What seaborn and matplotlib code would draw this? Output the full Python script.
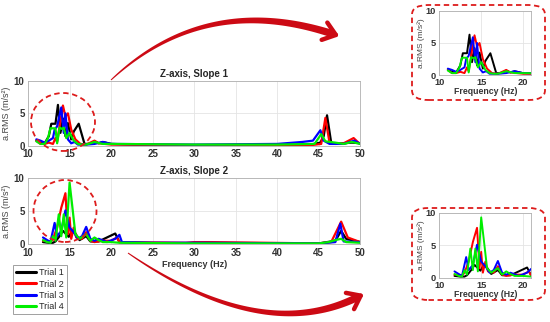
import numpy as np
import pandas as pd
import seaborn as sns
import matplotlib.pyplot as plt
from matplotlib.patches import Ellipse, FancyBboxPatch, Polygon
from matplotlib.lines import Line2D

trials = ['Trial 1', 'Trial 2', 'Trial 3', 'Trial 4']
colors = ['#000000', '#ff0000', '#0000ff', '#00ee00']

# Slope 1
s1_f1 = [11, 11.5, 12, 12.5, 12.8, 13.3, 13.6, 13.9, 14.2, 14.5, 14.8, 15.2, 15.5, 16.1, 16.8, 17.5, 18, 18.5, 19, 20, 25, 40, 44, 45.2, 45.6, 46, 46.5, 47, 48, 49, 50]
s1_v1 = [0.8, 0.5, 0.4, 1.5, 3.4, 3.4, 6.3, 2.0, 4.2, 1.5, 3.5, 1.0, 2.2, 3.4, 0.3, 0.3, 0.7, 0.4, 0.6, 0.3, 0.1, 0.15, 0.2, 0.5, 1.5, 4.7, 0.5, 0.3, 0.4, 0.5, 0.4]
s1_f2 = [11, 11.5, 12, 12.5, 13, 13.3, 13.5, 13.8, 14.2, 14.5, 14.8, 15.2, 15.7, 16.3, 17, 18, 18.5, 20, 30, 44, 45.3, 45.8, 46.3, 47, 48, 49.2, 49.7, 50]
s1_v2 = [0.8, 0.3, 0.3, 0.5, 0.3, 1.2, 0.6, 3.0, 6.2, 4.5, 5.0, 2.5, 1.0, 0.3, 0.2, 0.8, 0.4, 0.2, 0.1, 0.1, 0.3, 4.3, 0.5, 0.3, 0.4, 1.2, 0.6, 0.3]
s1_f3 = [11, 11.5, 12, 12.5, 13, 13.2, 13.5, 14, 14.3, 14.5, 14.8, 15.2, 15.6, 16, 17, 18, 19, 20, 30, 40, 43, 44.3, 45.2, 45.6, 46.3, 48, 49.3, 50]
s1_v3 = [1.0, 0.8, 0.5, 0.8, 1.2, 2.5, 3.0, 5.9, 2.0, 5.0, 1.0, 0.4, 0.6, 0.2, 0.2, 0.3, 0.6, 0.3, 0.2, 0.3, 0.6, 0.8, 2.4, 0.8, 0.3, 0.3, 0.8, 0.3]
s1_f4 = [11, 11.5, 12, 12.4, 12.7, 13.3, 13.5, 13.8, 14.1, 14.3, 14.6, 15, 15.5, 16, 16.5, 17, 18, 19, 20, 30, 40, 44.5, 45.3, 45.8, 47, 48, 49, 50]
s1_v4 = [0.7, 0.3, 0.3, 1.2, 2.7, 2.7, 0.4, 2.8, 2.6, 2.8, 1.2, 2.0, 0.8, 0.3, 0.2, 0.2, 0.6, 0.3, 0.3, 0.2, 0.2, 0.3, 1.8, 0.7, 0.5, 0.3, 0.6, 0.3]

# Slope 2
s2_f1 = [11.8, 12.5, 13, 13.3, 13.8, 14.2, 14.6, 14.9, 15.3, 15.7, 16.2, 17, 17.5, 18.5, 19.5, 20.5, 21, 25, 45, 47, 47.7, 48.3, 50]
s2_v1 = [0.3, 0.2, 0.2, 0.4, 1.2, 2.0, 1.5, 1.1, 2.0, 1.6, 0.6, 1.2, 0.4, 0.4, 1.0, 1.6, 0.3, 0.1, 0.1, 0.5, 2.0, 0.8, 0.3]
s2_f2 = [11.8, 12.3, 12.7, 13, 13.5, 14, 14.5, 14.8, 15, 15.2, 15.5, 15.8, 16.5, 17, 17.5, 18, 19, 20, 20.7, 21, 29, 30, 32, 45, 46.5, 47.7, 48.5, 50]
s2_v2 = [0.5, 0.5, 0.3, 0.8, 2.5, 5.5, 7.7, 1.5, 4.0, 0.8, 2.5, 1.0, 0.8, 1.8, 0.5, 0.3, 0.5, 0.5, 1.0, 0.3, 0.2, 0.3, 0.3, 0.1, 0.3, 3.4, 1.0, 0.3]
s2_f3 = [11.8, 12.3, 12.7, 13.2, 13.5, 14, 14.5, 15, 15.5, 16, 16.5, 17, 17.5, 18, 18.5, 19.5, 20.5, 21, 21.3, 25, 30, 45, 47, 47.6, 48, 50]
s2_v3 = [1.0, 0.6, 0.3, 3.2, 1.2, 2.0, 5.1, 2.5, 1.8, 0.8, 1.2, 2.6, 0.8, 0.5, 0.8, 0.3, 0.8, 1.4, 0.3, 0.2, 0.2, 0.1, 0.3, 3.1, 0.4, 0.3]
s2_f4 = [11.8, 12.3, 12.7, 13, 13.3, 13.7, 14, 14.3, 14.6, 15, 15.3, 15.7, 16.2, 17, 17.5, 18, 18.5, 19, 20, 21, 30, 45, 46.2, 47, 47.7, 48.3, 50]
s2_v4 = [0.6, 0.3, 0.2, 1.2, 0.5, 4.5, 1.2, 4.5, 1.0, 9.3, 6.0, 1.5, 0.8, 1.5, 0.5, 1.0, 0.6, 0.3, 0.3, 0.2, 0.1, 0.1, 0.3, 0.6, 0.8, 0.3, 0.2]


def make_df(freqs, vals):
    parts = []
    for name, f, v in zip(trials, freqs, vals):
        parts.append(pd.DataFrame({'freq': f, 'rms': v, 'trial': name}))
    return pd.concat(parts, ignore_index=True)


df1 = make_df([s1_f1, s1_f2, s1_f3, s1_f4], [s1_v1, s1_v2, s1_v3, s1_v4])
df2 = make_df([s2_f1, s2_f2, s2_f3, s2_f4], [s2_v1, s2_v2, s2_v3, s2_v4])

sns.set_style('whitegrid')
plt.rcParams['font.family'] = ['Liberation Sans', 'DejaVu Sans']

W, H = 550, 322
fig = plt.figure(figsize=(5.5, 3.22), dpi=100)


def fx(x, y):
    # pixel coords (top-left origin) -> figure fraction
    return (x / W, 1 - y / H)


def draw(ax, df, xlim, xticks, lw, small=False):
    sns.lineplot(data=df, x='freq', y='rms', hue='trial', palette=colors,
                 hue_order=trials, sort=False, estimator=None, linewidth=lw,
                 legend=False, ax=ax)
    ax.set_xlim(*xlim)
    ax.set_ylim(0, 10)
    ax.set_xticks(xticks)
    ax.set_yticks([0, 5, 10])
    ax.grid(True, color='#e4e4e4', linewidth=0.6)
    for s in ax.spines.values():
        s.set_visible(True)
        s.set_color('#b0b0b0')
        s.set_linewidth(0.6)
    ax.tick_params(axis='both', labelsize=6.7 if small else 7, pad=2.5, length=0)
    for lab in ax.get_xticklabels() + ax.get_yticklabels():
        lab.set_fontweight('bold')
        lab.set_color('#333333')
    ax.set_ylabel('a.RMS (m/s²)', fontsize=6 if small else 6.5, color='#444444',
                  labelpad=0.3 if small else 2)
    ax.set_xlabel('')


ax1 = fig.add_axes([0.051, 0.547, 0.604, 0.202])
draw(ax1, df1, (10, 50), range(10, 51, 5), 1.6)
ax1.set_title('Z-axis, Slope 1', fontsize=7, fontweight='bold', pad=3)

ax2 = fig.add_axes([0.051, 0.242, 0.604, 0.205])
draw(ax2, df2, (10, 50), range(10, 51, 5), 1.6)
ax2.set_title('Z-axis, Slope 2', fontsize=7, fontweight='bold', pad=3)
ax2.set_xlabel('Frequency (Hz)', fontsize=6.5, fontweight='bold', color='#333333', labelpad=2)

ax3 = fig.add_axes([0.799, 0.767, 0.167, 0.199])
draw(ax3, df1, (10, 21), [10, 15, 20], 1.4, small=True)
ax3.set_xlabel('Frequency (Hz)', fontsize=6.3, fontweight='bold', color='#333333', labelpad=0)

ax4 = fig.add_axes([0.799, 0.137, 0.167, 0.202])
draw(ax4, df2, (10, 21), [10, 15, 20], 1.4, small=True)
ax4.set_xlabel('Frequency (Hz)', fontsize=6.3, fontweight='bold', color='#333333', labelpad=0)

red = '#dd1c1c'
for box in [(412, 5, 545, 100), (412, 208, 545, 300)]:
    x0, y0, x1, y1 = box
    fig.patches.append(FancyBboxPatch(
        fx(x0, y1), (x1 - x0) / W, (y1 - y0) / H,
        boxstyle='round,pad=0,rounding_size=0.03', transform=fig.transFigure,
        fill=False, edgecolor=red, linestyle=(0, (3, 2)), linewidth=1.3))

for cx, cy, w, h in [(63, 122, 64, 58), (65, 211, 63, 62)]:
    fig.patches.append(Ellipse(fx(cx, cy), w / W, h / H,
                               transform=fig.transFigure, fill=False,
                               edgecolor=red, linestyle=(0, (3, 2)), linewidth=1.3))


def tapered_arrow(p0, p1, p2, w0, w1, color):
    # quadratic curve in pixel coords, width growing towards the head
    p0, p1, p2 = map(np.array, (p0, p1, p2))
    t = np.linspace(0, 1, 60)[:, None]
    pts = (1 - t) ** 2 * p0 + 2 * (1 - t) * t * p1 + t ** 2 * p2
    d = 2 * (1 - t) * (p1 - p0) + 2 * t * (p2 - p1)
    d = d / np.linalg.norm(d, axis=1)[:, None]
    nrm = np.column_stack([-d[:, 1], d[:, 0]])
    wid = (w0 + (w1 - w0) * t.ravel() ** 0.8)[:, None] / 2
    side = np.vstack([pts + nrm * wid, (pts - nrm * wid)[::-1]])
    poly = [fx(x, y) for x, y in side]
    fig.patches.append(Polygon(poly, closed=True, transform=fig.transFigure,
                               facecolor=color, edgecolor='none'))
    tip = pts[-1] + d[-1] * 3
    back = -d[-1]
    for ang in (0.65, -0.65):
        c, s = np.cos(ang), np.sin(ang)
        arm = np.array([c * back[0] - s * back[1], s * back[0] + c * back[1]])
        end = tip + arm * 15
        fig.lines.append(Line2D([tip[0] / W, end[0] / W], [1 - tip[1] / H, 1 - end[1] / H],
                                transform=fig.transFigure, color=color,
                                linewidth=3.2, solid_capstyle='round'))


arrow_col = '#cc0a14'
tapered_arrow((111, 80), (205, -8), (333, 34), 1.0, 7.5, arrow_col)
tapered_arrow((128, 253), (262, 345), (358, 297), 1.0, 7.5, arrow_col)

handles = [Line2D([], [], color=c, linewidth=2.2) for c in colors]
leg = fig.legend(handles, trials, loc='lower left', bbox_to_anchor=(0.015, 0.01),
                 fontsize=6.5, frameon=True, fancybox=False, handlelength=2.2,
                 handletextpad=0.4, borderpad=0.35, labelspacing=0.25)
leg.get_frame().set_edgecolor('#888888')
leg.get_frame().set_linewidth(0.7)

fig.savefig('out.png', dpi=100)
